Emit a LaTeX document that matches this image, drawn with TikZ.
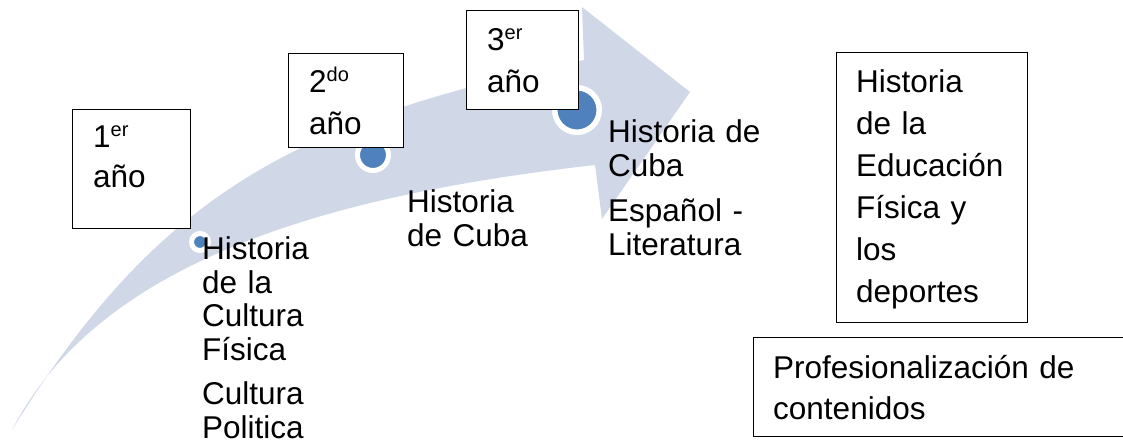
\documentclass[tikz,border=0pt]{standalone}
\usepackage{fontspec}
\setmainfont{Liberation Sans}
\definecolor{bandblue}{RGB}{208,216,232}
\definecolor{dotblue}{RGB}{79,129,189}
\newcommand\yrsup[1]{\raisebox{11pt}{\fontsize{20}{20}\selectfont #1}}
\begin{document}
\begin{tikzpicture}[x=1pt,y=-1pt,
  txt/.style={anchor=base west, inner sep=0pt, align=left, text width=#1,
    font=\fontsize{31.5}{33.5}\selectfont},
  boxtxt/.style={anchor=base west, inner sep=0pt, align=left, text width=#1,
    font=\fontsize{31.5}{42}\selectfont},
  yearbox/.style={draw=black, line width=1.3pt, fill=white, inner sep=0pt,
    anchor=north west, rectangle},
  dotnode/.style={circle, fill=dotblue, draw=white, inner sep=0pt}
]
\useasboundingbox (0,0) rectangle (1123,443);
% curved arrow
\fill[bandblue] (12,430) .. controls (160,190) and (300,120) .. (584,60)
  -- (582,7) -- (690,92) -- (602,219) -- (595,165)
  .. controls (330,195) and (100,260) .. (12,430) -- cycle;
% dots
\node[dotnode, line width=5pt, minimum size=17pt] (d1) at (200,242) {};
\node[dotnode, line width=5pt, minimum size=31pt] (d2) at (373,155) {};
\node[dotnode, line width=5.5pt, minimum size=44.5pt] (d3) at (577,110) {};
% year boxes
\node[yearbox, minimum width=118pt, minimum height=119pt] (b1) at (72,109) {};
\node[yearbox, minimum width=115pt, minimum height=94pt] (b2) at (288,53) {};
\node[yearbox, minimum width=112pt, minimum height=99pt] (b3) at (466,10) {};
\node[yearbox, minimum width=191pt, minimum height=270pt] (b4) at (836,52) {};
\node[yearbox, minimum width=400pt, minimum height=99pt] (b5) at (753,337) {};
% box texts
\node[boxtxt=90pt] (t1) at (93,148) {1\yrsup{er}\\[-2pt]año};
\node[boxtxt=90pt] (t2) at (309,93) {2\yrsup{do}\\año};
\node[boxtxt=90pt] (t3) at (487,51) {3\yrsup{er}\\año};
\node[boxtxt=170pt] (t4) at (856,93) {Historia\\de la\\Educación\\Física y\\los\\deportes};
\node[boxtxt=340pt] (t5) at (773,378) {Profesionalización de\\[-1pt]contenidos};
% free texts
\node[txt=140pt] (c1) at (202,260) {Historia\\de la\\Cultura\\Física\\[11pt]Cultura\\Politica};
\node[txt=140pt] (c2) at (407,213) {Historia\\de Cuba};
\node[txt=200pt] (c3) at (608,143) {Historia de\\Cuba\\[12pt]Español -\\Literatura};
\end{tikzpicture}
\end{document}
